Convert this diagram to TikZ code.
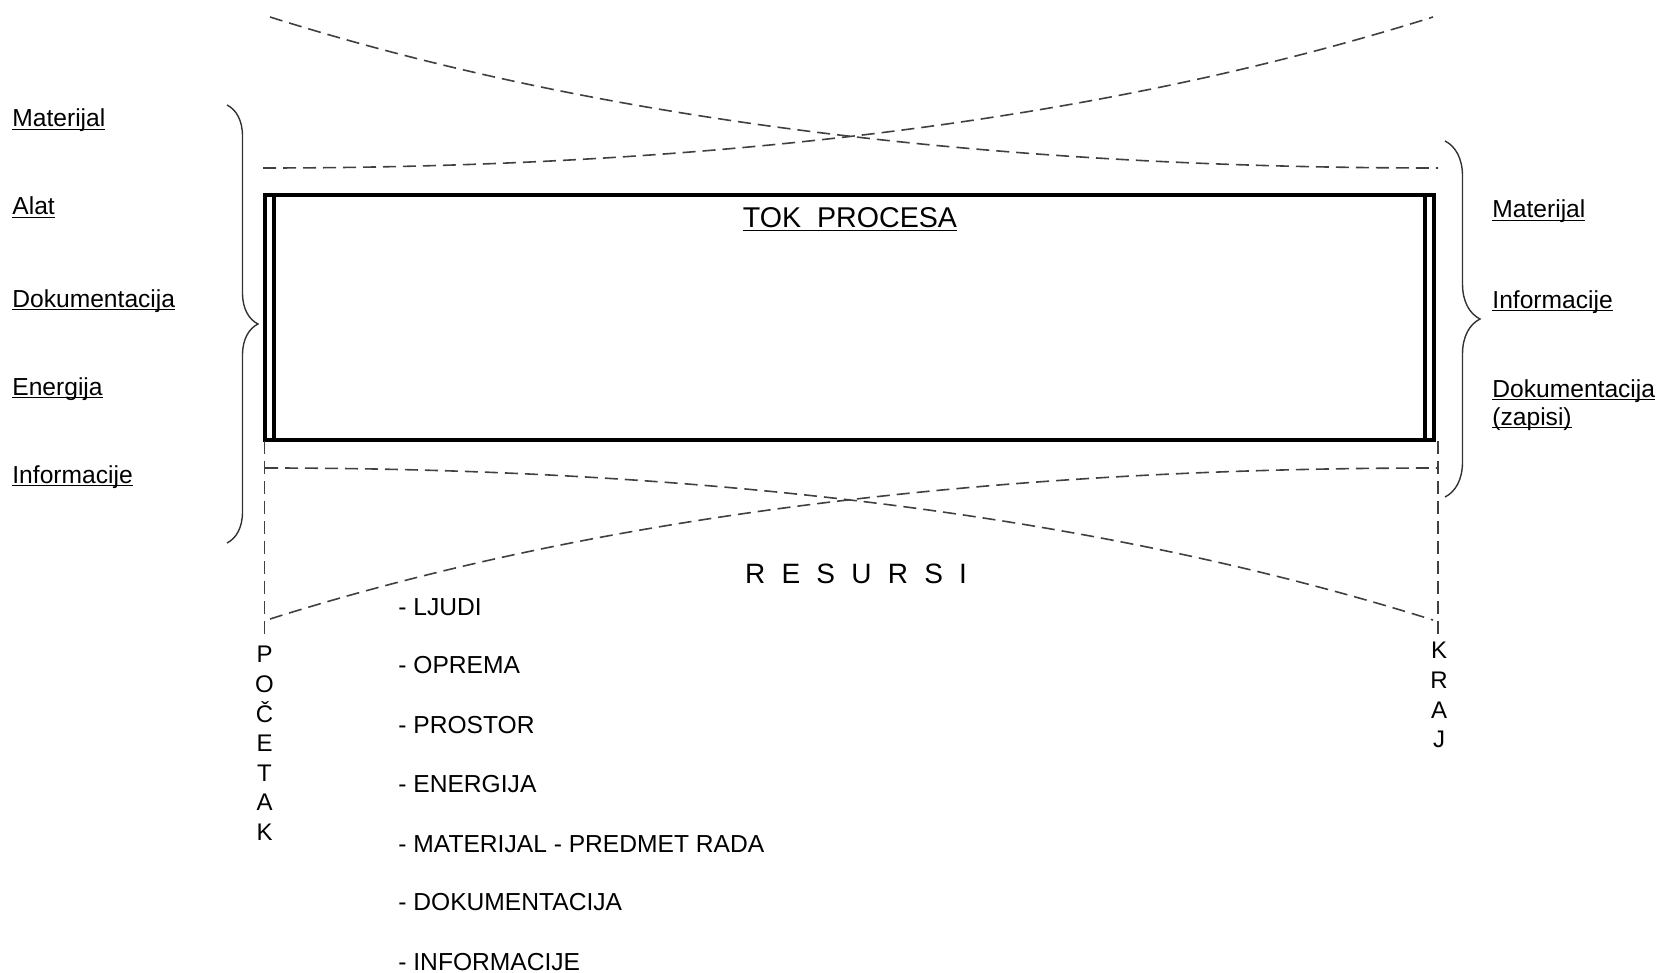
\documentclass[tikz,border=0pt]{standalone}
\usepackage{fontspec}
\setmainfont{Liberation Sans}
\usetikzlibrary{decorations.pathreplacing, positioning}

\begin{document}
\begin{tikzpicture}[
    x=50pt, y=-50pt,
    flowline/.style={line width=2pt},
    guide/.style={black!75, line width=0.8pt, dash pattern=on 6.5pt off 3.5pt},
    bracket/.style={black!80, line width=0.7pt, decorate, decoration={brace, amplitude=#1}},
    label/.style={anchor=base west, inner sep=0pt, font=\fontsize{12.3}{14}\selectfont},
    resource/.style={anchor=base west, inner sep=0pt, font=\fontsize{12.3}{14}\selectfont},
    vword/.style={anchor=north, inner sep=0pt, align=center, font=\fontsize{12}{14.8}\selectfont}
]

\useasboundingbox (0,0) rectangle (16.6,9.73);

% Process box with double lines at start and end
\draw[flowline] (2.645,1.95) rectangle (14.34,4.395);
\draw[flowline] (2.74,1.95) -- (2.74,4.395);
\draw[flowline] (14.245,1.95) -- (14.245,4.395);
\node[anchor=base, inner sep=0pt, font=\fontsize{14.3}{17}\selectfont] (tok) at (8.50,2.28) {\underbar{TOK\ \ PROCESA}};

% Upper crossing curves
\draw[guide] (2.70,0.17) .. controls (5.90,1.18) and (9.79,1.68) .. (14.38,1.68);
\draw[guide] (2.63,1.68) .. controls (7.22,1.68) and (11.12,1.18) .. (14.33,0.17);

% Lower crossing curves
\draw[guide] (2.65,4.68) .. controls (7.22,4.68) and (11.11,5.19) .. (14.33,6.20);
\draw[guide] (2.70,6.19) .. controls (5.90,5.18) and (9.79,4.68) .. (14.38,4.68);

% Start and end markers
\draw[guide] (2.645,4.41) -- (2.645,6.38);
\draw[guide] (14.38,4.41) -- (14.38,6.38);
\node[vword] (pocetak) at (2.645,6.46) {P\\O\\Č\\E\\T\\A\\K};
\node[vword] (kraj) at (14.39,6.42) {K\\R\\A\\J};

% Inputs (left)
\draw[bracket=15.5pt] (2.27,1.05) -- (2.27,5.43);
\node[label] (in1) at (0.12,1.27) {\underbar{Materijal}};
\node[label] (in2) at (0.12,2.15) {\underbar{Alat}};
\node[label] (in3) at (0.12,3.07) {\underbar{Dokumentacija}};
\node[label] (in4) at (0.12,3.95) {\underbar{Energija}};
\node[label] (in5) at (0.12,4.83) {\underbar{Informacije}};

% Outputs (right)
\draw[bracket=17.5pt] (14.45,1.41) -- (14.45,4.97);
\node[label] (out1) at (14.92,2.18) {\underbar{Materijal}};
\node[label] (out2) at (14.92,3.08) {\underbar{Informacije}};
\node[label] (out3) at (14.92,3.97) {\underbar{Dokumentacija}};
\node[label] (out4) at (14.92,4.25) {\underbar{(zapisi)}};

% Resources
\node[anchor=base, inner sep=0pt, font=\fontsize{14}{17}\selectfont] (resursi) at (8.56,5.83) {\spaceskip=0.58em\relax R E S U R S I};
\node[resource] (r1) at (3.98,6.15) {- LJUDI};
\node[resource] (r2) at (3.98,6.73) {- OPREMA};
\node[resource] (r3) at (3.98,7.33) {- PROSTOR};
\node[resource] (r4) at (3.98,7.92) {- ENERGIJA};
\node[resource] (r5) at (3.98,8.52) {- MATERIJAL - PREDMET RADA};
\node[resource] (r6) at (3.98,9.10) {- DOKUMENTACIJA};
\node[resource] (r7) at (3.98,9.70) {- INFORMACIJE};

\end{tikzpicture}
\end{document}
